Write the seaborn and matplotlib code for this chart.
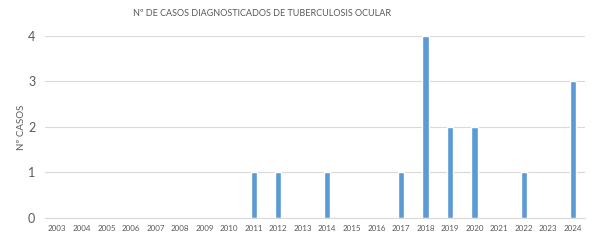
import matplotlib
matplotlib.use("Agg")
import matplotlib.pyplot as plt
import pandas as pd
import seaborn as sns

years = [str(y) for y in range(2003, 2025)]
cases = [0, 0, 0, 0, 0, 0, 0, 0, 1, 1, 0, 1, 0, 0, 1, 4, 2, 2, 0, 1, 0, 3]

df = pd.DataFrame({"year": years, "cases": cases})

sns.set_style("white")
plt.rcParams["font.family"] = ["Lato", "DejaVu Sans"]

fig = plt.figure(figsize=(6, 2.4), dpi=100)
ax = fig.add_axes([0.075, 0.092, 0.90, 0.758])
sns.barplot(data=df, x="year", y="cases", color="#5B9BD5", width=0.25,
            saturation=1, ax=ax)

ax.set_ylim(0, 4)
ax.set_yticks([0, 1, 2, 3, 4])
ax.set_xlim(-0.5, len(years) - 0.5)
ax.yaxis.grid(True, color="#D9D9D9", linewidth=0.8)
ax.set_axisbelow(True)
for side in ["top", "right", "left"]:
    ax.spines[side].set_visible(False)
ax.spines["bottom"].set_color("#D9D9D9")
ax.tick_params(axis="x", labelsize=5.8, colors="#595959", length=0, pad=5)
ax.tick_params(axis="y", labelsize=9, colors="#595959", length=0, pad=7)
ax.set_xlabel("")
ax.set_ylabel("Nº CASOS", fontsize=7, color="#595959")
ax.yaxis.set_label_coords(-0.035, 0.5)
fig.text(0.437, 0.945, "Nº DE CASOS DIAGNOSTICADOS DE TUBERCULOSIS OCULAR",
         fontsize=6.5, color="#595959", ha="center", va="center")

fig.savefig("out.png", dpi=100)
